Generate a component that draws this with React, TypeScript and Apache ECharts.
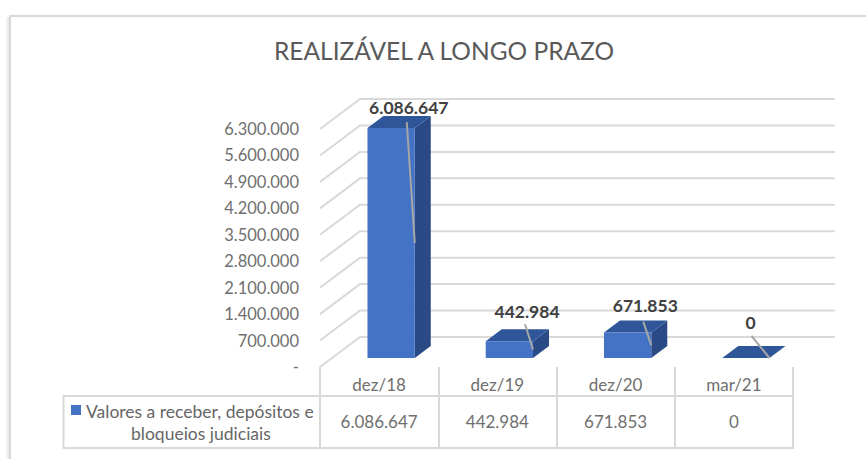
import React, { useEffect, useRef } from "react";
import * as echarts from "echarts";

const titleText = "REALIZÁVEL A LONGO PRAZO";
const seriesName = "Valores a receber, depósitos e bloqueios judiciais";
const categories = ["dez/18", "dez/19", "dez/20", "mar/21"];
const barValues = [6086647, 442984, 671853, 0];
const axisTicks = [0, 700000, 1400000, 2100000, 2800000, 3500000, 4200000, 4900000, 5600000, 6300000];

const FONT = "Lato";
const WALL = [40, -30];
const BAR_NEAR = 0.3;
const BAR_FAR = 0.7;
const BAR_SHARE = 0.4;
// hand-placed Excel data labels, relative to the bar's top right front corner
const labelOffsets = [[-6, -21], [-6, -30], [-6, -27], [-19, -36]];
const leaderOffsets = [[-8, -6], [-8, -17], [-8, -11], [-18, -22]];

const fmt = (v: number) => String(Math.round(v)).replace(/\B(?=(\d{3})+(?!\d))/g, ".");

export default function App() {
  const ref = useRef<HTMLDivElement>(null);
  useEffect(() => {
    document.body.style.margin = "0";
    const chart = echarts.init(ref.current!, null, { renderer: "svg" });
    const gridColor = "#d9d9d9";
    chart.setOption({
      animation: false,
      backgroundColor: "#ffffff",
      textStyle: { fontFamily: FONT },
      title: {
        text: titleText,
        left: 439,
        top: 33,
        textAlign: "center",
        textStyle: { fontFamily: FONT, fontSize: 24.5, fontWeight: "normal", color: "#595959" },
      },
      legend: {
        show: true,
        left: 71,
        top: 400,
        padding: 0,
        selectedMode: false,
        itemWidth: 10,
        itemHeight: 44,
        itemGap: 0,
        data: [{ name: seriesName, icon: "path://M0 0L0.01 0L0 0Z M0 5H10V15H0Z M0 44L0.01 44L0 44Z" }],
        formatter: () => "{a|Valores a receber, depósitos e}\n{b|bloqueios judiciais}",
        textStyle: {
          fontFamily: FONT,
          color: "#666666",
          rich: {
            a: { fontFamily: FONT, fontSize: 17.5, lineHeight: 22, color: "#666666" },
            b: { fontFamily: FONT, fontSize: 17.5, lineHeight: 22, color: "#666666", padding: [0, 0, 0, 45] },
          },
        },
      },
      grid: { left: 320, top: 129, width: 473, height: 238, containLabel: false },
      xAxis: [
        {
          type: "category",
          position: "bottom",
          data: categories,
          axisLine: { show: false },
          axisTick: { show: true, length: 29, lineStyle: { color: gridColor, width: 2 } },
          axisLabel: { margin: 9, fontFamily: FONT, fontSize: 17, color: "#6f6f6f" },
        },
        {
          type: "category",
          position: "bottom",
          offset: 29,
          data: barValues.map(fmt),
          axisLine: { show: true, lineStyle: { color: gridColor, width: 2 } },
          axisTick: { show: true, length: 52, lineStyle: { color: gridColor, width: 2 } },
          axisLabel: { margin: 17, fontFamily: FONT, fontSize: 17, color: "#6f6f6f" },
        },
      ],
      yAxis: {
        type: "value",
        min: 0,
        max: 6300000,
        interval: 700000,
        axisLine: { show: false },
        axisTick: { show: false },
        splitLine: { show: false },
        axisLabel: {
          margin: 21,
          fontFamily: FONT,
          fontSize: 16.5,
          color: "#6f6f6f",
          padding: [5, 0, 0, 0],
          formatter: (v: number) => (v === 0 ? "-" : fmt(v)),
        },
      },
      series: [
        {
          type: "custom",
          name: "grade",
          coordinateSystem: "cartesian2d",
          silent: true,
          z: 1,
          clip: false,
          data: axisTicks.map((t) => [0, t]),
          encode: { x: 0, y: 1 },
          renderItem: (_p: any, api: any) => {
            const band = api.size([1, 0])[0];
            const start = api.coord([0, api.value(1)]);
            const end = api.coord([categories.length - 1, api.value(1)]);
            const x0 = start[0] - band / 2;
            const x1 = end[0] + band / 2;
            const y = start[1];
            return {
              type: "polyline",
              shape: {
                points: [
                  [x0, y],
                  [x0 + WALL[0], y + WALL[1]],
                  [x1 + WALL[0] + 2, y + WALL[1]],
                ],
              },
              style: { stroke: gridColor, lineWidth: 2, fill: "none" },
            };
          },
        },
        {
          type: "custom",
          name: seriesName,
          coordinateSystem: "cartesian2d",
          z: 2,
          clip: false,
          itemStyle: { color: "#4472C4" },
          data: barValues.map((v, i) => [i, v]),
          encode: { x: 0, y: 1 },
          renderItem: (p: any, api: any) => {
            const i = p.dataIndex;
            const band = api.size([1, 0])[0];
            const top = api.coord([i, api.value(1)]);
            const base = api.coord([i, 0]);
            const w = band * BAR_SHARE;
            const near = [WALL[0] * BAR_NEAR, WALL[1] * BAR_NEAR];
            const d = [WALL[0] * (BAR_FAR - BAR_NEAR), WALL[1] * (BAR_FAR - BAR_NEAR)];
            const xL = top[0] - w / 2 + near[0];
            const xR = top[0] + w / 2 + near[0];
            const yT = top[1] + near[1];
            const yB = base[1] + near[1];
            const lo = labelOffsets[i];
            const le = leaderOffsets[i];
            const children: any[] = [
              {
                type: "polygon",
                shape: { points: [[xR, yT], [xR + d[0], yT + d[1]], [xR + d[0], yB + d[1]], [xR, yB]] },
                style: { fill: "#2A4A85" },
              },
              {
                type: "polygon",
                shape: { points: [[xL, yT], [xR, yT], [xR + d[0], yT + d[1]], [xL + d[0], yT + d[1]]] },
                style: { fill: "#30569A" },
              },
              {
                type: "rect",
                shape: { x: xL, y: yT, width: w, height: yB - yT },
                style: { fill: "#4472C4" },
              },
              {
                type: "line",
                shape: { x1: xR + le[0], y1: yT + le[1], x2: xR, y2: (yT + yB) / 2 },
                style: { stroke: "#a6a6a6", lineWidth: 2 },
              },
              {
                type: "text",
                style: {
                  text: fmt(api.value(1)),
                  x: xR + lo[0],
                  y: yT + lo[1],
                  align: "center",
                  verticalAlign: "middle",
                  fontFamily: FONT,
                  fontSize: 17.5,
                  fontWeight: "bold",
                  fill: "#404040",
                },
              },
            ];
            return { type: "group", children };
          },
        },
      ],
      graphic: [
        { type: "rect", silent: true, z: 0, shape: { x: 5, y: 17, width: 4, height: 442 },
          style: { fill: new echarts.graphic.LinearGradient(0, 0, 1, 0, [
            { offset: 0, color: "#ffffff" }, { offset: 1, color: "#e4e4e4" } ]) } },
        { type: "line", silent: true, z: 0, shape: { x1: 10, y1: 16, x2: 866, y2: 16 },
          style: { stroke: "#d9d9d9", lineWidth: 2 } },
        { type: "line", silent: true, z: 0, shape: { x1: 10, y1: 15, x2: 10, y2: 459 },
          style: { stroke: "#d9d9d9", lineWidth: 2 } },
        { type: "rect", silent: true, z: 0, shape: { x: 63.5, y: 396, width: 729.5, height: 52 },
          style: { fill: "none", stroke: gridColor, lineWidth: 2 } },
      ],
    });
    return () => chart.dispose();
  }, []);
  return <div ref={ref} style={{ width: 866, height: 459 }} />;
}
